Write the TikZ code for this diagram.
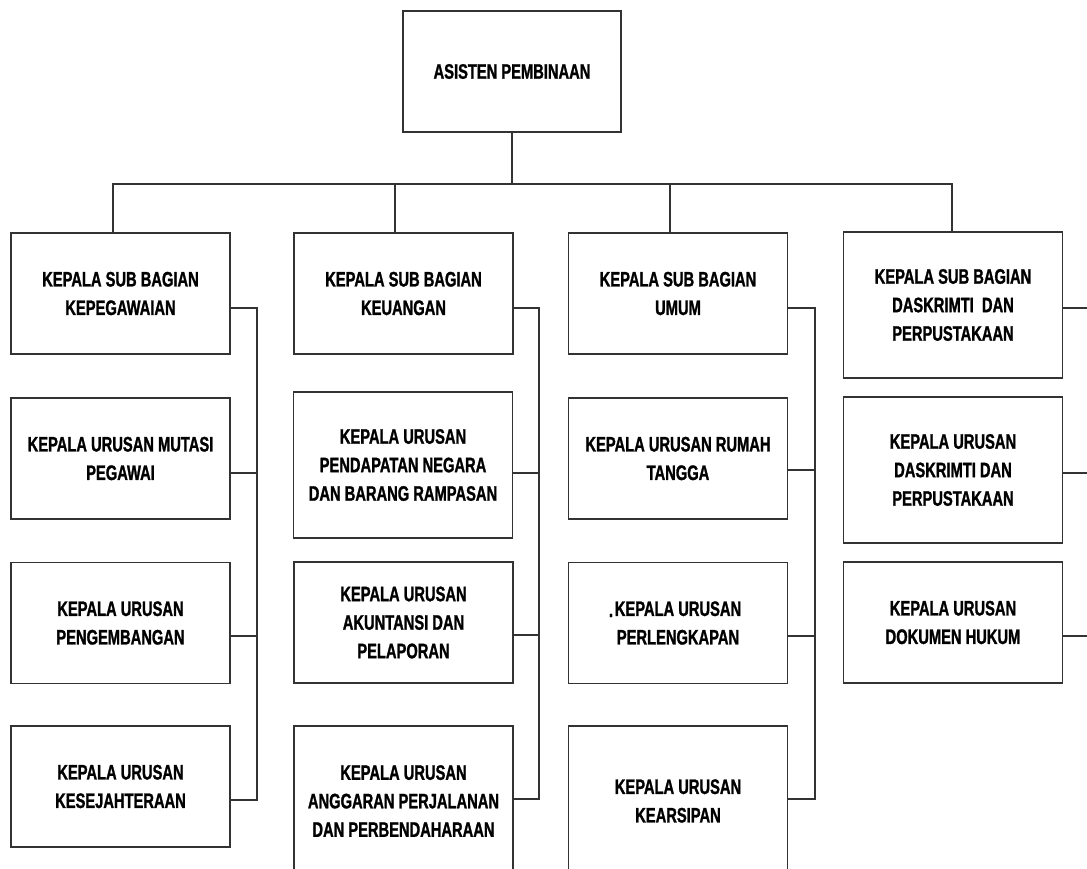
\documentclass[tikz,border=0pt]{standalone}
\usepackage{fontspec}
\setmainfont{Liberation Sans}[FakeStretch=0.7, BoldFeatures={FakeBold=1.2}]
\begin{document}
\begin{tikzpicture}[x=1pt,y=-1pt,
  box/.style={draw=black!80, line width=1.3pt, fill=white, align=center,
    minimum width=219pt, minimum height=121pt, inner sep=0pt,
    font={\fontsize{21}{28.5}\selectfont\bfseries}},
  tall/.style={minimum height=146pt},
  vtall/.style={minimum height=150pt},
  line/.style={draw=black!80, line width=1.3pt}]
\useasboundingbox (0,0) rectangle (1087,868);
\clip (0,0) rectangle (1087,868);
% top
\node[box, minimum width=218pt] (top) at (512,71.5) {ASISTEN PEMBINAAN};
% column 1
\node[box] (c1a) at (120.5,293.5) {KEPALA SUB BAGIAN\\KEPEGAWAIAN};
\node[box] (c1b) at (120.5,458.5) {KEPALA URUSAN MUTASI\\PEGAWAI};
\node[box] (c1c) at (120.5,623) {KEPALA URUSAN\\PENGEMBANGAN};
\node[box] (c1d) at (120.5,786.5) {KEPALA URUSAN\\KESEJAHTERAAN};
% column 2
\node[box] (c2a) at (403.5,293.5) {KEPALA SUB BAGIAN\\KEUANGAN};
\node[box, tall] (c2b) at (403,465) {KEPALA URUSAN\\PENDAPATAN NEGARA\\DAN BARANG RAMPASAN};
\node[box] (c2c) at (403.5,622.5) {KEPALA URUSAN\\AKUNTANSI DAN\\PELAPORAN};
\node[box, vtall] (c2d) at (403.5,801) {KEPALA URUSAN\\ANGGARAN PERJALANAN\\DAN PERBENDAHARAAN};
% column 3
\node[box] (c3a) at (678,293.5) {KEPALA SUB BAGIAN\\UMUM};
\node[box] (c3b) at (678,458.5) {KEPALA URUSAN RUMAH\\TANGGA};
\node[box] (c3c) at (678,623) {KEPALA URUSAN\\PERLENGKAPAN};
\node[box, vtall] (c3d) at (678,801) {KEPALA URUSAN\\KEARSIPAN};
\node[font={\fontsize{21}{28}\selectfont\bfseries}, inner sep=0pt, anchor=base] (dot) at (611,617) {.};
% column 4
\node[box, tall] (c4a) at (953,305) {KEPALA SUB BAGIAN\\DASKRIMTI\ \ DAN\\PERPUSTAKAAN};
\node[box, tall] (c4b) at (953,470) {KEPALA URUSAN\\DASKRIMTI DAN\\PERPUSTAKAAN};
\node[box] (c4c) at (953,622.5) {KEPALA URUSAN\\DOKUMEN HUKUM};
% bus
\coordinate (bus) at (0,184);
\coordinate (d1) at (113,0);
\coordinate (d2) at (395,0);
\coordinate (d3) at (670,0);
\coordinate (d4) at (952,0);
\draw[line] (top.south) -- (top.south |- bus);
\draw[line] (c1a.north -| d1) -- (d1 |- bus) -- (d4 |- bus) -- (c4a.north -| d4);
\draw[line] (d2 |- bus) -- (c2a.north -| d2);
\draw[line] (d3 |- bus) -- (c3a.north -| d3);
% column connectors
\coordinate (b1) at (257,0);
\coordinate (b2) at (539,0);
\coordinate (b3) at (815,0);
\coordinate (b4) at (1095,0);
\coordinate (s1a) at ([yshift=-14.5pt]c1a.east);
\coordinate (s1b) at ([yshift=-14.5pt]c1b.east);
\coordinate (s1c) at ([yshift=-13pt]c1c.east);
\coordinate (s1d) at ([yshift=-13.5pt]c1d.east);
\draw[line] (s1a) -- (s1a -| b1) -- (s1d -| b1) -- (s1d);
\draw[line] (s1b) -- (s1b -| b1);
\draw[line] (s1c) -- (s1c -| b1);
\coordinate (s2a) at ([yshift=-14.5pt]c2a.east);
\coordinate (s2b) at ([yshift=-8pt]c2b.east);
\coordinate (s2c) at ([yshift=-12.5pt]c2c.east);
\coordinate (s2d) at ([yshift=2pt]c2d.east);
\draw[line] (s2a) -- (s2a -| b2) -- (s2d -| b2) -- (s2d);
\draw[line] (s2b) -- (s2b -| b2);
\draw[line] (s2c) -- (s2c -| b2);
\coordinate (s3a) at ([yshift=-14.5pt]c3a.east);
\coordinate (s3b) at ([yshift=-11.5pt]c3b.east);
\coordinate (s3c) at ([yshift=-13pt]c3c.east);
\coordinate (s3d) at ([yshift=2pt]c3d.east);
\draw[line] (s3a) -- (s3a -| b3) -- (s3d -| b3) -- (s3d);
\draw[line] (s3b) -- (s3b -| b3);
\draw[line] (s3c) -- (s3c -| b3);
\coordinate (s4a) at ([yshift=-3pt]c4a.east);
\coordinate (s4b) at ([yshift=-3pt]c4b.east);
\coordinate (s4c) at ([yshift=-13.5pt]c4c.east);
\draw[line] (s4a) -- (s4a -| b4);
\draw[line] (s4b) -- (s4b -| b4);
\draw[line] (s4c) -- (s4c -| b4);
\end{tikzpicture}
\end{document}
